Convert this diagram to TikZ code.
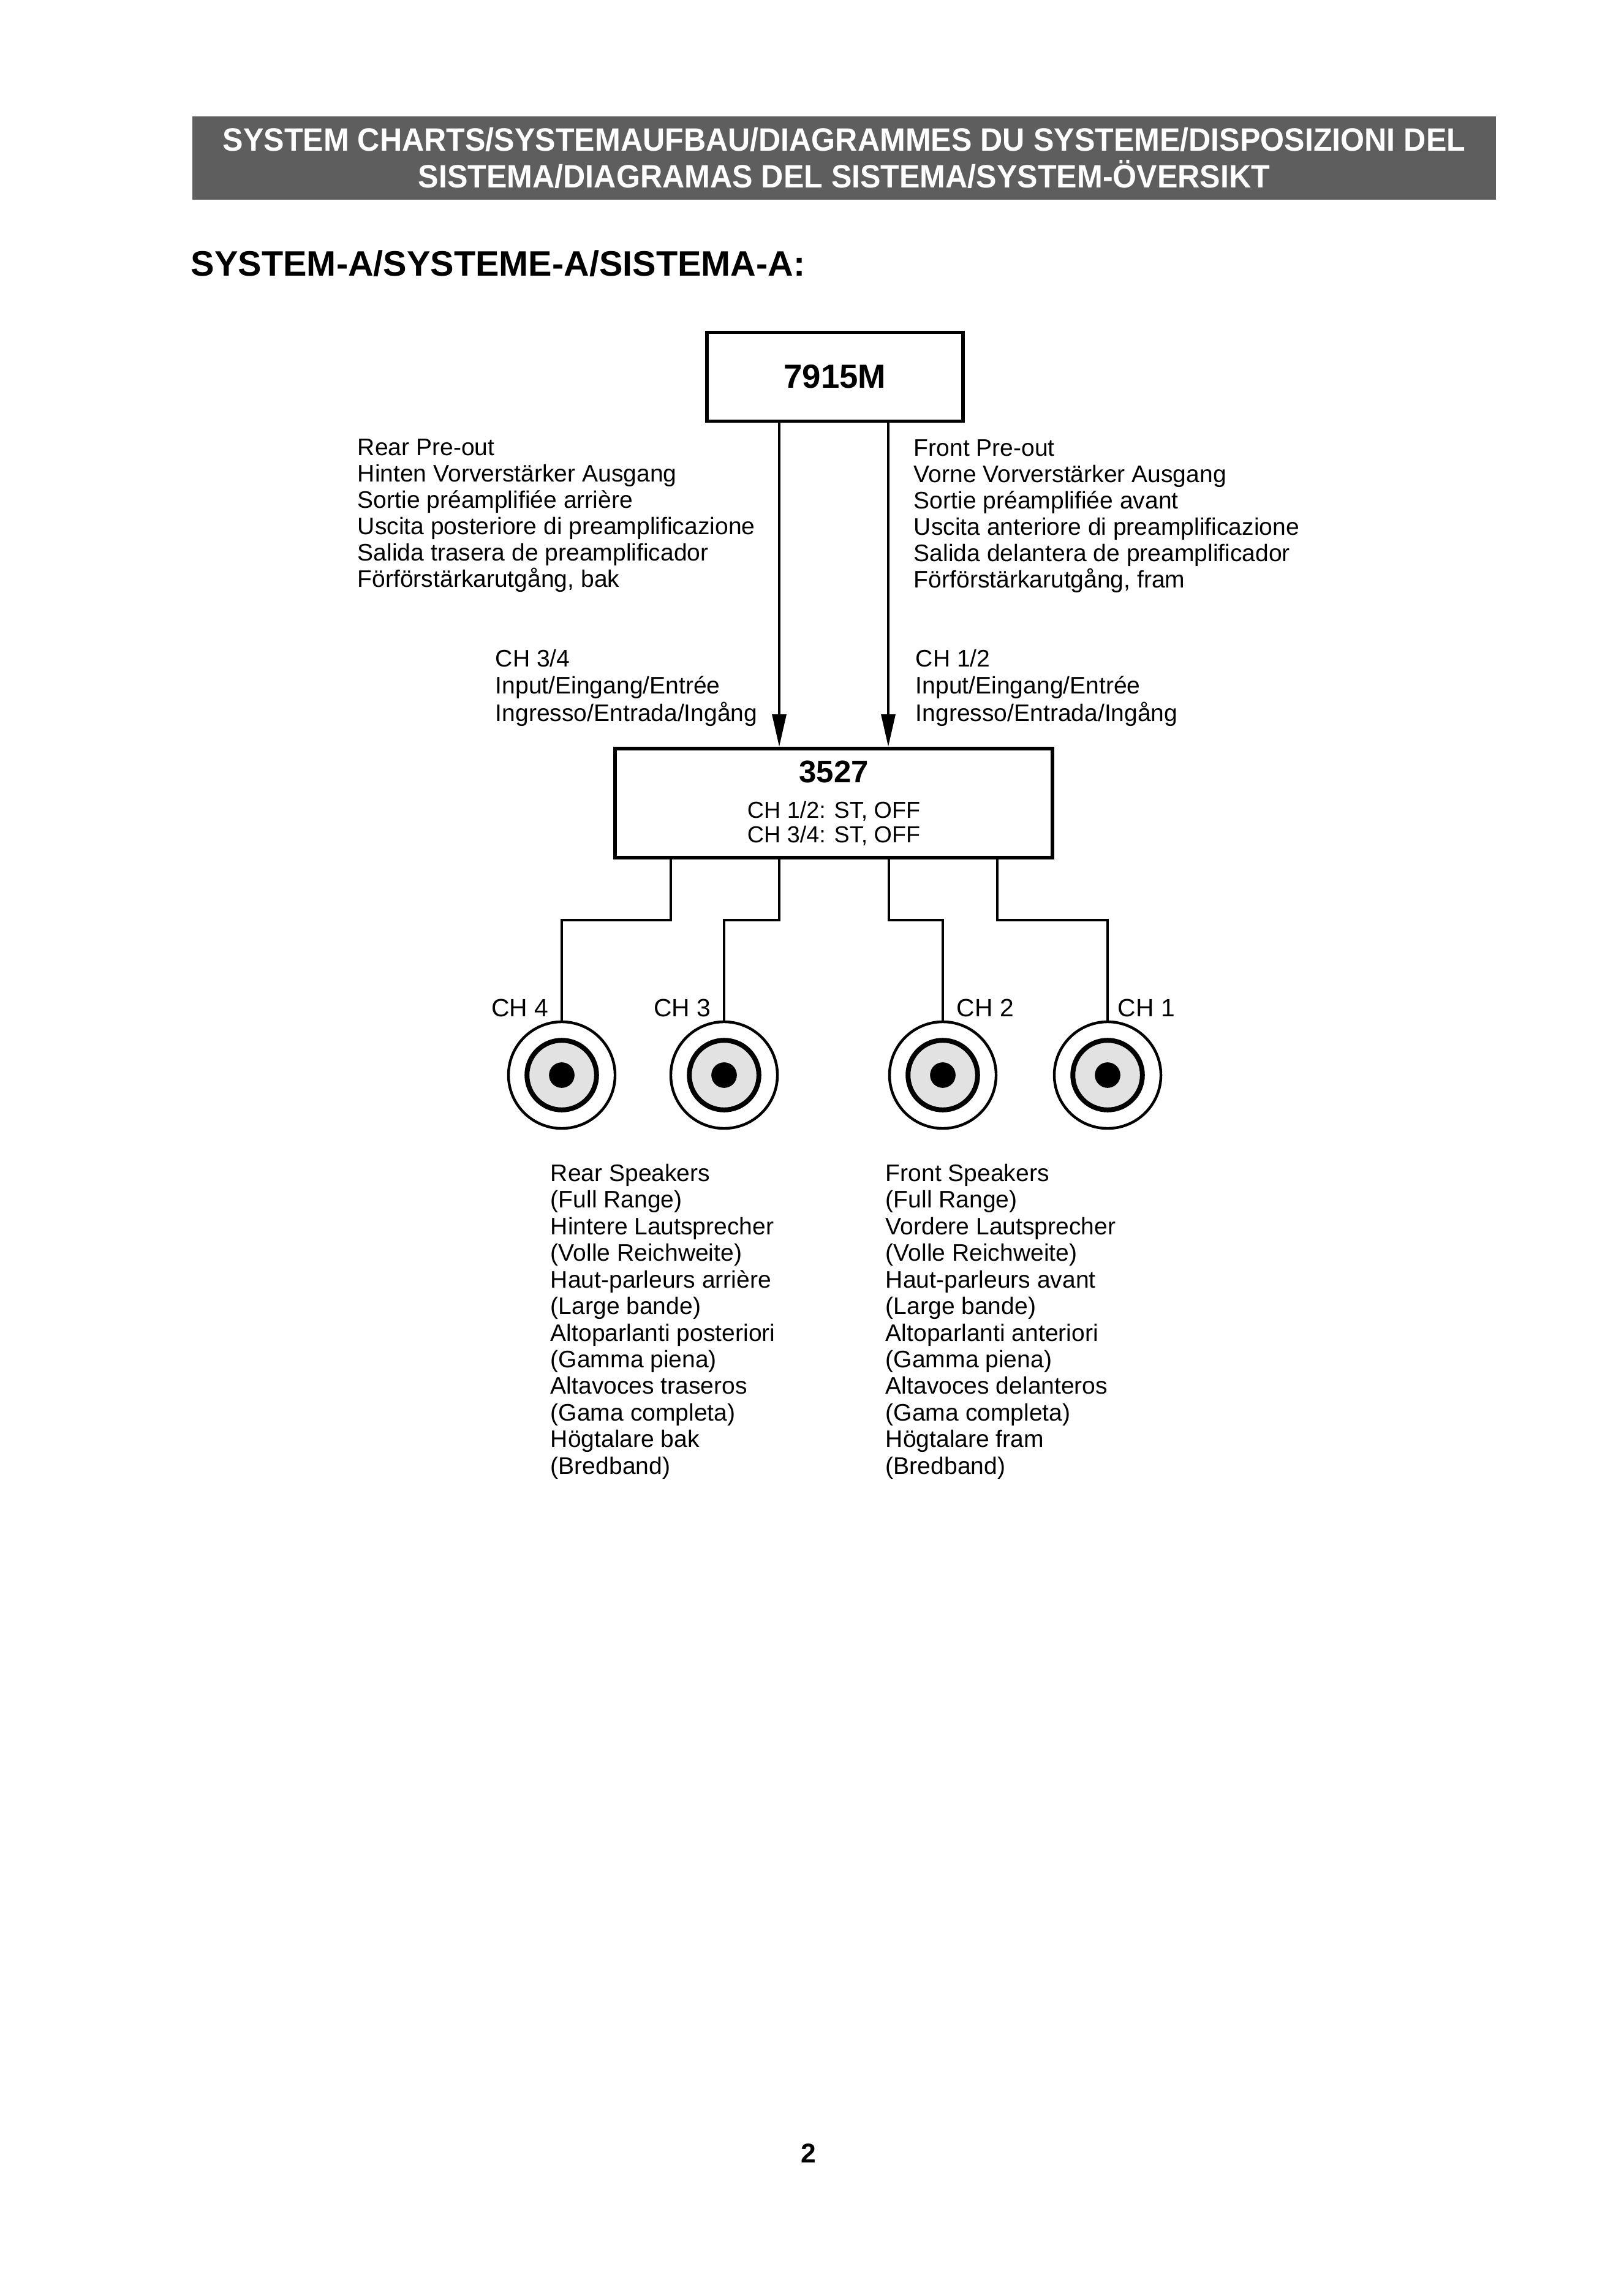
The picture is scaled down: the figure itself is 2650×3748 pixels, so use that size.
\documentclass[tikz,border=0pt]{standalone}
\usepackage{fontspec}
\setmainfont{Liberation Sans}
\newfontfamily\condfont{Liberation Sans}[FakeStretch=0.95]
\usepackage{tikz}
\usetikzlibrary{arrows.meta,positioning}
\definecolor{screen}{HTML}{5E5E5E}
\definecolor{cone}{HTML}{E2E2E2}

\begin{document}
\begin{tikzpicture}[x=0.079245mm,y=-0.079245mm,
banner/.style={fill=screen,text=white,align=center,inner sep=0pt,minimum width=168.55mm,minimum height=10.7mm,font=\condfont\bfseries\fontsize{11.9}{13.5}\selectfont},
unit/.style={draw,line width=1.3pt,align=center,inner sep=0pt},
note/.style={align=left,inner sep=0pt,anchor=north west,font=\fontsize{8.8}{9.7}\selectfont},
chlab/.style={inner sep=0pt,font=\fontsize{9.2}{11}\selectfont},
spk/.style={circle,draw,line width=1pt,minimum size=13.79mm,inner sep=0pt,path picture={\draw[line width=1.8pt,fill=cone] (path picture bounding box.center) circle[radius=4.5mm];\fill (path picture bounding box.center) circle[radius=1.65mm];}},
wire/.style={line width=0.9pt},
arr/.style={-{Triangle[length=4.2mm,width=1.8mm]},line width=0.9pt}
]
\useasboundingbox (0,0) rectangle (2650,3748);
\node[banner] (head) at (1378,258) {SYSTEM CHARTS/SYSTEMAUFBAU/DIAGRAMMES DU SYSTEME/DISPOSIZIONI DEL\\SISTEMA/DIAGRAMAS DEL SISTEMA/SYSTEM-ÖVERSIKT};
\node[inner sep=0pt,anchor=base west,font=\bfseries\fontsize{13}{15}\selectfont] (sysa) at (311,451) {SYSTEM-A/SYSTEME-A/SISTEMA-A:};

\node[unit,minimum width=33.12mm,minimum height=11.49mm,font=\bfseries\fontsize{12.3}{14}\selectfont] (m7915) at (1363,615) {7915M};
\node[unit,minimum width=56.58mm,minimum height=14.11mm,font=\fontsize{8.5}{9}\selectfont] (u3527) at (1361,1311) {{\bfseries\fontsize{11.5}{13}\selectfont 3527}\\[4pt]CH 1/2: ST, OFF\\CH 3/4: ST, OFF};

\node[note] (rearout) at (583,716) {Rear Pre-out\\Hinten Vorverstärker Ausgang\\Sortie préamplifiée arrière\\Uscita posteriore di preamplificazione\\Salida trasera de preamplificador\\Förförstärkarutgång, bak};
\node[note] (frontout) at (1491,717) {Front Pre-out\\Vorne Vorverstärker Ausgang\\Sortie préamplifiée avant\\Uscita anteriore di preamplificazione\\Salida delantera de preamplificador\\Förförstärkarutgång, fram};
\node[note,font=\fontsize{8.8}{10.1}\selectfont] (in34) at (808,1059) {CH 3/4\\Input/Eingang/Entrée\\Ingresso/Entrada/Ingång};
\node[note,font=\fontsize{8.8}{10.1}\selectfont] (in12) at (1494,1059) {CH 1/2\\Input/Eingang/Entrée\\Ingresso/Entrada/Ingång};

\coordinate (rearin) at (1272,900);
\coordinate (frontin) at (1450,900);
\draw[arr] (m7915.south -| rearin)--(u3527.north -| rearin);
\draw[arr] (m7915.south -| frontin)--(u3527.north -| frontin);

\node[spk] (spk4) at (917,1755) {};
\node[spk] (spk3) at (1182,1755) {};
\node[spk] (spk2) at (1539,1755) {};
\node[spk] (spk1) at (1808,1755) {};
\coordinate (j4) at (1095,1502);
\coordinate (j3) at (1272,1502);
\coordinate (j2) at (1451,1502);
\coordinate (j1) at (1628,1502);
\draw[wire] (u3527.south -| j4)--(j4)-|(spk4.north);
\draw[wire] (u3527.south -| j3)--(j3)-|(spk3.north);
\draw[wire] (u3527.south -| j2)--(j2)-|(spk2.north);
\draw[wire] (u3527.south -| j1)--(j1)-|(spk1.north);
\node[chlab,anchor=base east] (ch4) at (896,1659) {CH 4};
\node[chlab,anchor=base east] (ch3) at (1161,1659) {CH 3};
\node[chlab,anchor=base west] (ch2) at (1561,1659) {CH 2};
\node[chlab,anchor=base west] (ch1) at (1824,1659) {CH 1};

\node[note,font=\fontsize{8.8}{9.8}\selectfont] (rearspk) at (898,1899) {Rear Speakers\\(Full Range)\\Hintere Lautsprecher\\(Volle Reichweite)\\Haut-parleurs arrière\\(Large bande)\\Altoparlanti posteriori\\(Gamma piena)\\Altavoces traseros\\(Gama completa)\\Högtalare bak\\(Bredband)};
\node[note,font=\fontsize{8.8}{9.8}\selectfont] (frontspk) at (1445,1899) {Front Speakers\\(Full Range)\\Vordere Lautsprecher\\(Volle Reichweite)\\Haut-parleurs avant\\(Large bande)\\Altoparlanti anteriori\\(Gamma piena)\\Altavoces delanteros\\(Gama completa)\\Högtalare fram\\(Bredband)};

\node[inner sep=0pt,font=\bfseries\fontsize{10}{12}\selectfont] (pg) at (1320,3515) {2};
\end{tikzpicture}
\end{document}
